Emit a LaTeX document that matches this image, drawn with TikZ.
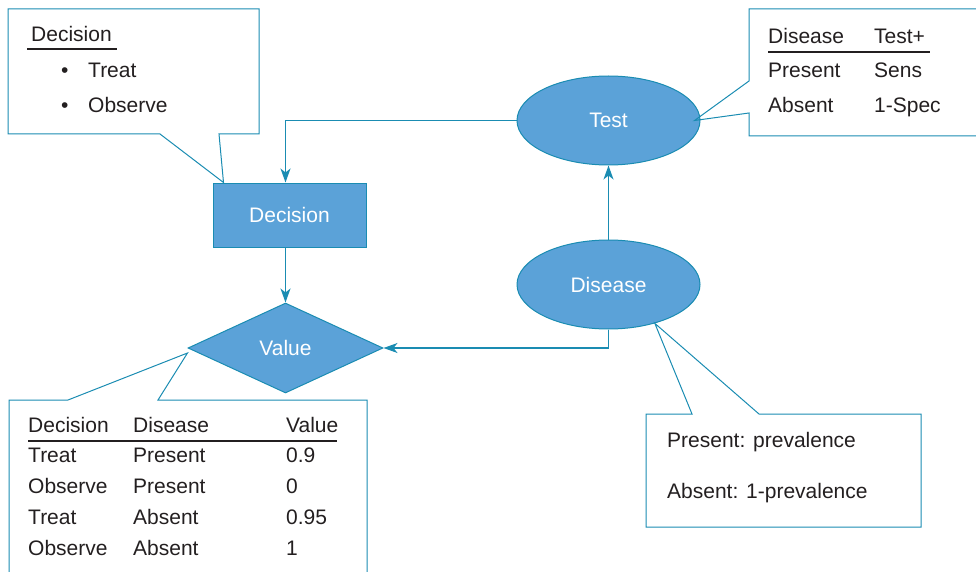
\documentclass[tikz,border=0pt]{standalone}
\usepackage{fontspec}
\setmainfont{Liberation Sans}
\usetikzlibrary{shapes.geometric,arrows.meta}
\definecolor{nodeblue}{RGB}{91,162,216}
\definecolor{linkteal}{RGB}{26,140,178}
\definecolor{inkgray}{RGB}{35,31,32}
\begin{document}
\begin{tikzpicture}[x=1pt,y=-1pt,
        font=\fontsize{21}{25}\selectfont,
        every node/.style={text=inkgray},
        decbox/.style={draw=linkteal,line width=1pt,fill=nodeblue,text=white,
            minimum width=153pt,minimum height=64pt,inner sep=0pt},
        chance/.style={ellipse,draw=linkteal,line width=1pt,fill=nodeblue,text=white,
            minimum width=183pt,minimum height=89pt,inner sep=0pt},
        valdiam/.style={diamond,draw=linkteal,line width=1pt,fill=nodeblue,text=white,
            minimum width=195pt,minimum height=90pt,inner sep=0pt},
        arr/.style={draw=linkteal,line width=1.2pt,-{Stealth[length=14pt,width=10pt,inset=4pt]}},
        callout/.style={draw=linkteal,line width=1pt},
        rule/.style={draw=inkgray,line width=1.3pt},
        txt/.style={anchor=base west,inner sep=0pt}]
    \useasboundingbox (0,0) rectangle (976,572);
    \clip (0,0) rectangle (976,572);

    % model nodes
    \node[decbox] (decision) at (289.5,215) {Decision};
    \node[chance] (test) at (608.5,120.5) {Test};
    \node[chance] (disease) at (608.5,284.5) {Disease};
    \node[valdiam] (value) at (285.5,348) {Value};

    % arcs
    \draw[arr] (test.west) -| (decision.north -| value.north);
    \draw[arr] (decision.south -| value.north) -- (value.north);
    \draw[arr] (disease) -- (test);
    \draw[arr] (disease.south) |- (value.east);

    % decision callout
    \draw[callout] (8,9) -- (259,9) -- (259,134) -- (219,134)
        -- ([xshift=11pt]decision.north west) -- (160,134) -- (8,134) -- cycle;
    \node[txt] (declabel) at (31,42) {Decision};
    \draw[rule] (27,49) -- (117,49);
    \node[txt] (bulletA) at (61,78) {\textbullet};
    \node[txt] (treat) at (88,78) {Treat};
    \node[txt] (bulletB) at (61,113) {\textbullet};
    \node[txt] (observe) at (88,113) {Observe};

    % test callout
    \draw[callout] (990,9) -- (749,9) -- (749,81)
        -- ([xshift=-6pt]test.east) -- (749,113) -- (749,136) -- (990,136);
    \node[txt] (tdis) at (768,44) {Disease};
    \node[txt] (tpos) at (874,44) {Test+};
    \draw[rule] (768,52) -- (930,52);
    \node[txt] (tpres) at (768,78) {Present};
    \node[txt] (tsens) at (874,78) {Sens};
    \node[txt] (tabs) at (768,113) {Absent};
    \node[txt] (tspec) at (874,113) {1-Spec};

    % value callout
    \draw[callout] (9,590) -- (9,400) -- (68,400)
        -- ([yshift=-5pt]value.west) -- (158,400) -- (367,400) -- (367,590);
    \node[txt] (vdec) at (28,432) {Decision};
    \node[txt] (vdis) at (133,432) {Disease};
    \node[txt] (vval) at (286,432) {Value};
    \draw[rule] (28,441) -- (337,441);
    \foreach \dec/\dis/\val [count=\i] in
        {Treat/Present/0.9, Observe/Present/0, Treat/Absent/0.95, Observe/Absent/1} {
        \node[txt] (vrowA\i) at (28,432+30.8*\i) {\dec};
        \node[txt] (vrowB\i) at (133,432+30.8*\i) {\dis};
        \node[txt] (vrowC\i) at (286,432+30.8*\i) {\val};
    }

    % disease callout
    \draw[callout] (646,414) -- (692,414) -- (disease.-40) -- (759,414)
        -- (921,414) -- (921,527) -- (646,527) -- cycle;
    \node[txt] (prev) at (667,447) {Present: prevalence};
    \node[txt] (noprev) at (667,498) {Absent: 1-prevalence};
\end{tikzpicture}
\end{document}
